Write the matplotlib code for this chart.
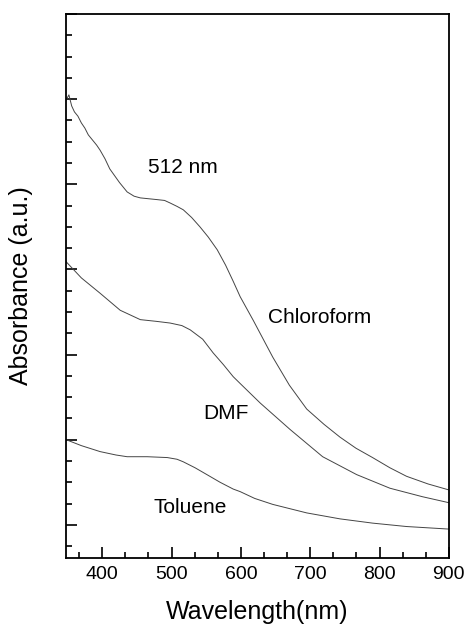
import numpy as np
import matplotlib.pyplot as plt
from matplotlib.ticker import MultipleLocator, AutoMinorLocator, NullFormatter

plt.rcParams['font.family'] = ['Liberation Sans', 'DejaVu Sans']

# wavelength (nm) and absorbance (a.u.)
wl_chloro = [348, 352, 356, 360, 365, 370, 375, 380, 386, 392, 397, 404, 411, 418,
             425, 436, 446, 455, 467, 479, 490, 498, 508, 517, 529, 541, 553, 566,
             578, 589, 599, 618, 646, 670, 695, 720, 743, 766, 790, 815, 839, 870, 900]
abs_chloro = [5.99, 6.05, 5.92, 5.85, 5.80, 5.72, 5.66, 5.58, 5.52, 5.46, 5.40, 5.30,
              5.18, 5.10, 5.02, 4.91, 4.86, 4.84, 4.83, 4.82, 4.81, 4.78, 4.74, 4.70,
              4.61, 4.50, 4.38, 4.23, 4.05, 3.86, 3.68, 3.40, 2.97, 2.64, 2.36, 2.18,
              2.03, 1.90, 1.79, 1.67, 1.57, 1.48, 1.41]

wl_dmf = [348, 370, 397, 426, 455, 478, 498, 515, 527, 545, 560, 575, 589, 599,
          628, 671, 718, 767, 815, 862, 900]
abs_dmf = [4.09, 3.90, 3.72, 3.52, 3.41, 3.39, 3.37, 3.34, 3.29, 3.18, 3.02, 2.88,
           2.74, 2.66, 2.43, 2.12, 1.80, 1.59, 1.43, 1.33, 1.26]

wl_tol = [348, 370, 397, 420, 436, 465, 494, 508, 517, 534, 551, 570, 589, 599,
          620, 646, 695, 743, 790, 839, 900]
abs_tol = [2.00, 1.93, 1.86, 1.82, 1.80, 1.80, 1.79, 1.77, 1.74, 1.67, 1.59, 1.50,
           1.42, 1.39, 1.31, 1.24, 1.14, 1.07, 1.02, 0.98, 0.95]

fig = plt.figure(figsize=(4.69, 6.36), dpi=100)
ax = fig.add_axes([0.141, 0.1226, 0.816, 0.8554])

for wl, ab in [(wl_chloro, abs_chloro), (wl_dmf, abs_dmf), (wl_tol, abs_tol)]:
    ax.plot(wl, ab, color='#444444', lw=0.7)

ax.set_xlim(348, 900)
ax.set_ylim(0.61, 7.0)

ax.xaxis.set_major_locator(MultipleLocator(100))
ax.xaxis.set_minor_locator(AutoMinorLocator(3))
ax.yaxis.set_major_locator(MultipleLocator(1))
ax.yaxis.set_minor_locator(AutoMinorLocator(4))
ax.yaxis.set_major_formatter(NullFormatter())

ax.tick_params(which='both', direction='in', top=False, right=False, width=1.2)
ax.tick_params(which='major', length=8, labelsize=14, pad=6)
ax.tick_params(which='minor', length=4)

for s in ax.spines.values():
    s.set_linewidth(1.3)

ax.set_xlabel('Wavelength(nm)', fontsize=18, labelpad=12)
ax.set_ylabel('Absorbance (a.u.)', fontsize=18)
ax.yaxis.set_label_coords(-0.086, 0.5)

ax.text(517, 5.2, '512 nm', fontsize=15, ha='center', va='center')
ax.text(713, 3.43, 'Chloroform', fontsize=15, ha='center', va='center')
ax.text(578, 2.31, 'DMF', fontsize=15, ha='center', va='center')
ax.text(527, 1.20, 'Toluene', fontsize=15, ha='center', va='center')

fig.savefig('out.png', dpi=100)
